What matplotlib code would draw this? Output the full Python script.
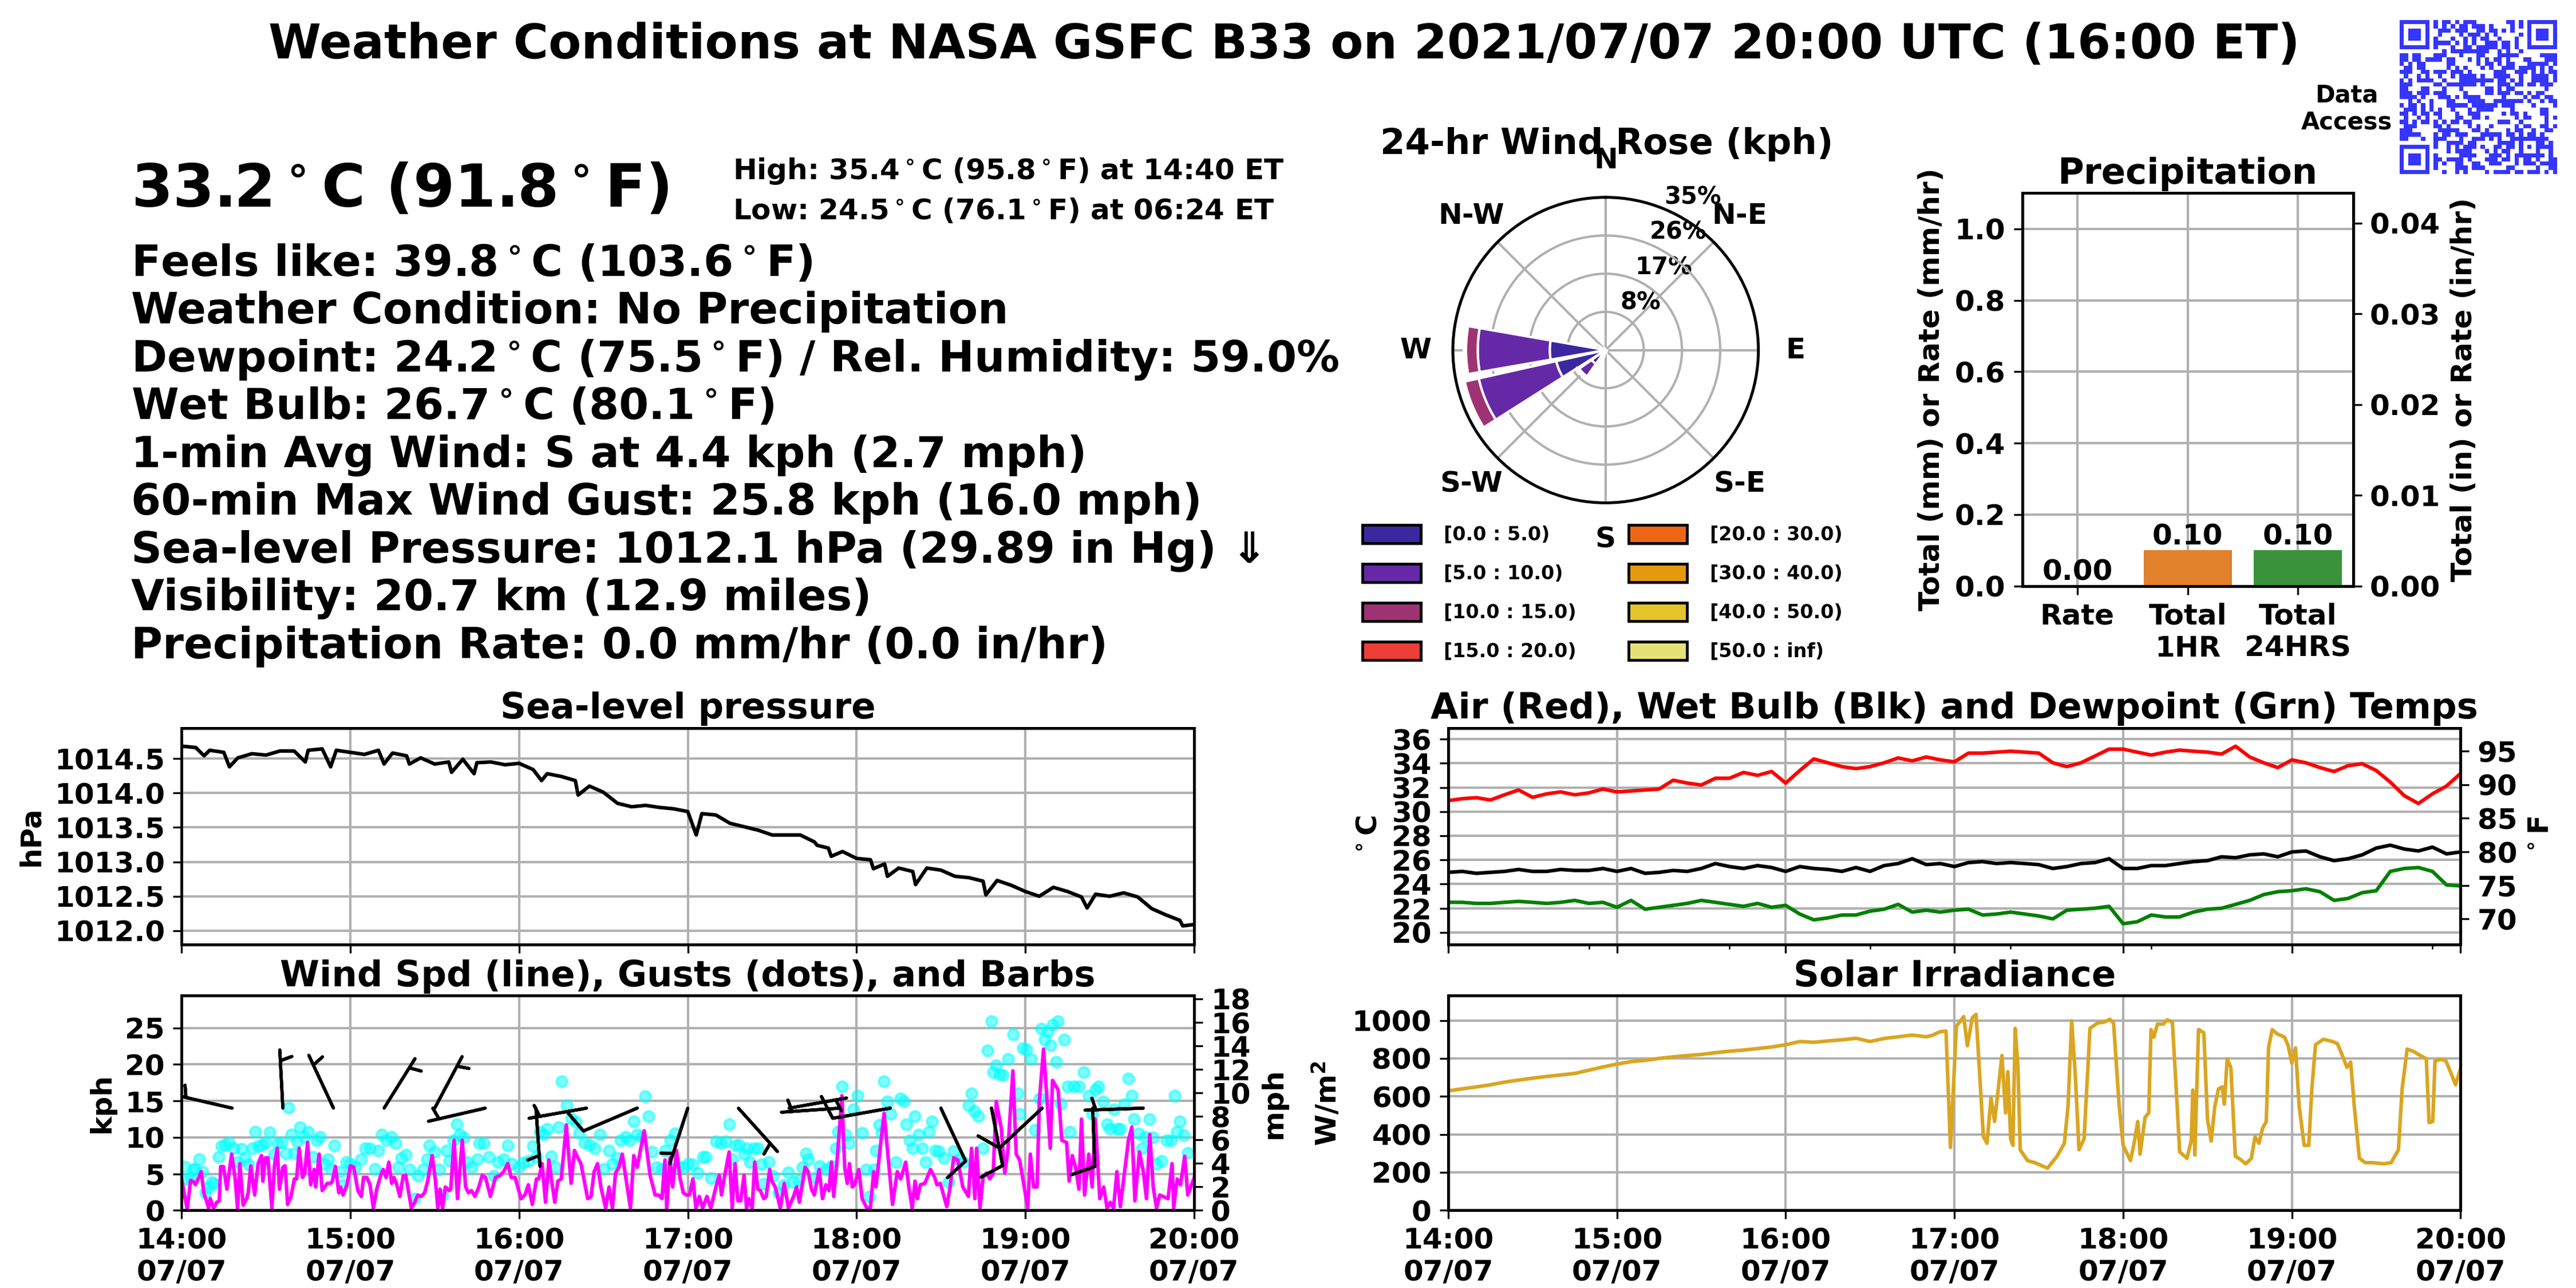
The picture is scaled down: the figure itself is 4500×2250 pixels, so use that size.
import numpy as np
import matplotlib
matplotlib.use('Agg')
import matplotlib.pyplot as plt
import matplotlib.dates as mdates
from matplotlib.patches import Patch
from matplotlib.colors import ListedColormap
from datetime import datetime, timedelta
import hashlib

plt.rcParams['font.family'] = ['DejaVu Sans']
plt.rcParams['font.weight'] = 'bold'
plt.rcParams['axes.titleweight'] = 'bold'
plt.rcParams['axes.labelweight'] = 'bold'
plt.rcParams['axes.linewidth'] = 1.2

# ---------------- DATA ----------------
T0 = datetime(2021, 7, 7, 14, 0)

# 5-minute temperature series (deg C)
t5_min = list(range(0, 361, 5))
air_c = [30.91, 31.07, 31.15, 30.96, 31.39, 31.79, 31.18, 31.47, 31.63, 31.39, 31.55, 31.87, 31.63,
         31.71, 31.79, 31.87, 32.60, 32.36, 32.20, 32.76, 32.76, 33.24, 33.00, 33.32, 32.36, 33.40,
         34.36, 34.04, 33.72, 33.56, 33.72, 34.04, 34.44, 34.20, 34.52, 34.28, 34.12, 34.84, 34.84,
         34.92, 35.00, 34.92, 34.84, 34.04, 33.72, 34.04, 34.60, 35.17, 35.17, 34.92, 34.68, 34.92,
         35.09, 35.00, 34.92, 34.76, 35.41, 34.52, 34.04, 33.64, 34.28, 34.04, 33.64, 33.32, 33.80,
         33.96, 33.40, 32.44, 31.31, 30.67, 31.47, 32.12, 33.16]
wetbulb_c = [24.97, 25.05, 24.89, 24.97, 25.05, 25.21, 25.05, 25.05, 25.21, 25.13, 25.13, 25.29, 25.05,
             25.29, 24.89, 24.97, 25.13, 25.05, 25.29, 25.70, 25.45, 25.29, 25.53, 25.37, 25.05, 25.45,
             25.29, 25.21, 25.05, 25.37, 25.05, 25.53, 25.70, 26.10, 25.61, 25.70, 25.45, 25.78, 25.86,
             25.70, 25.78, 25.70, 25.61, 25.29, 25.45, 25.70, 25.78, 26.10, 25.29, 25.29, 25.53, 25.53,
             25.70, 25.86, 25.94, 26.26, 26.18, 26.42, 26.50, 26.26, 26.66, 26.74, 26.26, 25.94, 26.10,
             26.42, 26.98, 27.22, 26.90, 26.74, 27.06, 26.50, 26.66]
dewpt_c = [22.49, 22.49, 22.40, 22.40, 22.49, 22.57, 22.49, 22.40, 22.49, 22.65, 22.40, 22.49, 22.08,
           22.65, 21.92, 22.08, 22.24, 22.40, 22.65, 22.49, 22.32, 22.16, 22.40, 22.08, 22.24, 21.52,
           21.04, 21.20, 21.44, 21.44, 21.76, 21.92, 22.32, 21.68, 21.84, 21.68, 21.84, 21.92, 21.44,
           21.52, 21.68, 21.52, 21.36, 21.12, 21.84, 21.92, 22.00, 22.16, 20.72, 20.88, 21.44, 21.28,
           21.28, 21.68, 21.92, 22.00, 22.32, 22.65, 23.13, 23.37, 23.45, 23.61, 23.37, 22.65, 22.81,
           23.29, 23.45, 25.05, 25.29, 25.37, 25.05, 23.93, 23.85]

# sea-level pressure (hPa): 5-minute readings plus short dips
p_min = list(range(0, 361, 5))
p_hpa = [1014.68, 1014.66, 1014.62, 1014.59, 1014.51, 1014.57, 1014.55, 1014.61, 1014.61, 1014.62,
         1014.64, 1014.62, 1014.59, 1014.56, 1014.62, 1014.58, 1014.54, 1014.51, 1014.42, 1014.45,
         1014.49, 1014.44, 1014.45, 1014.41, 1014.43, 1014.34, 1014.28, 1014.24, 1014.18, 1014.10,
         1014.01, 1013.85, 1013.80, 1013.82, 1013.79, 1013.77, 1013.73, 1013.70, 1013.68, 1013.56,
         1013.51, 1013.46, 1013.39, 1013.39, 1013.39, 1013.29, 1013.20, 1013.15, 1013.05, 1013.03,
         1012.97, 1012.91, 1012.86, 1012.91, 1012.88, 1012.79, 1012.77, 1012.72, 1012.73, 1012.66,
         1012.57, 1012.50, 1012.63, 1012.57, 1012.49, 1012.53, 1012.50, 1012.55, 1012.49, 1012.32,
         1012.23, 1012.15, 1012.09]
pdip_min = [8, 17, 44, 53, 72, 81, 96, 104, 128, 141, 183, 226, 231, 246, 251, 261, 286, 322, 356]
pdip_hpa = [1014.54, 1014.38, 1014.45, 1014.38, 1014.42, 1014.42, 1014.30, 1014.28, 1014.18, 1013.97,
            1013.39, 1013.24, 1013.08, 1012.90, 1012.79, 1012.67, 1012.52, 1012.33, 1012.07]

# solar irradiance (W/m2)
sol_min = [0, 5, 10, 15, 20, 25, 30, 35, 40, 45, 50, 55, 60, 65, 70, 75, 80, 85, 90, 95, 100, 105, 110,
           115, 120, 125, 130, 135, 140, 145, 150, 155, 160, 165, 170, 172, 175, 177,
           178.6, 180.7, 183.3, 184.6, 186.4, 187.7, 190.3, 191.6, 193.0, 194.3, 196.9, 198.2, 199.0,
           200.0, 200.8, 201.6, 202.6, 203.4, 206.0, 208.6, 213.1, 216.5, 219.1, 220.4, 221.7, 223.0,
           224.3, 226.1, 228.2, 230.8, 233.4, 235.3, 236.6, 238.6, 240.0, 242.6, 243.9, 245.2, 246.0,
           247.8, 249.1, 249.9, 250.9, 252.2, 254.3, 255.6, 257.5, 258.8, 260.1, 262.7, 264.2, 264.8,
           265.5, 266.8, 268.7, 270.0, 271.3, 272.6, 273.9, 275.2, 276.0, 277.0, 278.3, 279.9, 281.7,
           283.6, 285.6, 286.9, 288.3, 289.6, 290.9, 291.7, 293.0, 294.8, 297.4, 298.7, 300.0, 301.3,
           302.6, 304.4, 306.0, 307.1, 308.4, 311.2, 314.4, 316.2, 317.5, 319.6, 320.9, 322.2, 324.0,
           326.1, 328.7, 332.7, 335.3, 337.9, 339.2, 341.0, 343.1, 345.7, 347.8, 348.8, 350.1, 350.9,
           353.0, 354.8, 356.7, 358.2, 360.0]
sol_wm2 = [629, 640, 650, 661, 675, 686, 696, 705, 713, 721, 738, 755, 770, 783, 790, 800, 808, 815, 821,
           830, 838, 844, 852, 860, 872, 889, 885, 892, 898, 906, 889, 905, 914, 923, 914, 921, 941, 944,
           331, 969, 1020, 867, 1015, 1032, 388, 353, 593, 468, 815, 513, 730,
           376, 342, 958, 753, 319, 262, 251, 222, 285, 353, 547, 998, 707,
           319, 376, 958, 986, 992, 1006, 986, 547, 342, 262, 353, 468, 296,
           490, 513, 952, 912, 981, 981, 1003, 992, 661, 308, 274, 365, 633,
           291, 952, 935, 479, 365, 547, 639, 650, 559, 798, 753, 285, 268,
           245, 274, 388, 353, 433, 468, 855, 952, 929, 912, 867, 775, 855,
           547, 342, 342, 639, 872, 901, 889, 878, 832, 753, 781, 547, 274,
           251, 251, 245, 251, 319, 639, 849, 838, 815, 798, 462, 468, 787,
           796, 787, 718, 661, 747]

# 1-min average wind speed (kph)
spd_min = [0, 2, 3.2, 4.3, 4.9, 5.9, 7, 7.9, 9, 9.6, 10.2, 11.4, 12.5, 13.4, 13.9, 14.9, 16.1, 16.6, 17.8,
           19, 19.9, 20.7, 21.9, 23.1, 23.7, 24.6, 26, 27.2, 28.4, 28.9, 29.8, 30.7, 32.1, 33, 34, 34.8,
           36, 36.8, 37.7, 38.9, 40.1, 40.9, 41.8, 43, 43.8, 44.8, 45.9, 47.1, 47.7, 48.9, 50, 51.8, 53,
           53.6, 54.7, 55.9, 56.5, 57.4, 58.8, 60, 61.2, 62.7, 63.9, 64.7, 65.9, 67, 68.2, 69.4, 70.8,
           71.7, 72.7, 73.7, 74.7, 75.5, 76.4, 77.6, 78.8, 79.7, 81.7, 82.9, 84, 85.2, 86.4, 87.5, 89.1,
           90.2, 91.1, 91.9, 92.8, 93.8, 95.2, 95.7, 96.9, 98.1, 99.8, 101, 102, 103.1, 104.3, 105.7,
           106.9, 108.1, 109.8, 111.6, 113.3, 114.5, 116, 117.2, 118.6, 120.7, 122.1, 123.3, 124.7,
           126.2, 127, 128.2, 129.4, 130.6, 131.5, 132.7, 133.8, 135, 136.8, 138.5, 139.7, 140.9, 142,
           144.4, 145.6, 146.7, 147.9, 149.1, 150.8, 152, 153.2, 154.3, 155.5, 156.7, 159.6, 160.8, 162,
           164.5, 166.6, 168.4, 169.6, 170.8, 171.9, 172.5, 173.7, 174.6, 176, 177.2, 178.4, 179.5,
           180.6, 181.8, 182.9, 184.1, 185.3, 186.8, 188.2, 190, 191.2, 192, 192.9, 194.7, 195.8, 196.8,
           197.8, 198.8, 200, 200.9, 201.7, 202.9, 203.8, 204.9, 205.8, 207, 207.9, 209.1, 209.9, 211.1,
           212.9, 214.3, 215.8, 217.6, 218.7, 219.7, 221.7, 222.8, 224, 225, 226.7, 227.9, 229.1, 230.2,
           231.1, 231.9, 233.1, 234.8, 235.8, 236.7, 237.5, 238.5, 239.3, 240.8, 242, 243.7, 244.9,
           246.1, 246.9, 249.8, 252.8, 254.5, 255.7, 257.5, 258.6, 259.8, 260.8, 261.6, 262.7, 264.3,
           266.3, 267.8, 268.6, 269.8, 272.1, 273.3, 274.5, 276, 277.8, 279.8, 280.9, 282.1, 282.7,
           283.9, 285, 286.2, 287.4, 288.6, 289.7, 291.5, 292.7, 293.8, 295.6, 296.8, 298, 300.9, 301.8,
           303, 304.2, 305, 306.5, 307.7, 308.9, 309.7, 311.7, 313, 314.7, 315.6, 316.7, 317.9, 319.1,
           320, 321.1, 322.6, 323.8, 324.9, 326.5, 327.9, 329.1, 330.2, 331.4, 332.6, 333.8, 336.7,
           337.9, 339, 340.6, 342, 343.1, 344.3, 345.5, 346.7, 347.8, 349, 350.8, 352.2, 352.8, 354,
           355.2, 356.7, 357.8, 360]
spd_kph = [4.3, 0.1, 4.1, 3.9, 3.5, 4.3, 5.3, 2.4, 1.1, 0.3, 1.6, 0.3, 1.1, 1.3, 6.0, 6.0, 2.9, 4.3, 7.7,
           4.5, 0.3, 6.4, 0.7, 1.6, 2.4, 6.1, 2.1, 6.4, 7.5, 4.0, 7.2, 7.2, 0.3, 6.1, 8.5, 2.9,
           5.9, 6.1, 0.8, 1.9, 4.3, 4.3, 8.5, 4.5, 5.1, 9.3, 3.5, 5.6, 3.2, 7.7, 2.7, 3.7, 3.7,
           4.0, 6.0, 2.4, 3.2, 2.1, 3.5, 6.1, 5.9, 2.7, 1.9, 4.5, 4.5, 3.5, 0.3, 2.9, 4.8,
           5.6, 4.5, 6.6, 3.7, 4.5, 3.7, 1.9, 4.7, 4.8, 0.3, 1.1, 2.1, 1.9, 2.4, 4.0, 7.5,
           4.3, 0.3, 2.9, 0.3, 3.2, 2.7, 2.9, 9.6, 1.6, 9.6, 3.2, 2.4, 2.7, 1.9, 3.2,
           4.8, 4.5, 1.9, 4.5, 4.8, 5.3, 6.4, 4.5, 4.5, 1.6, 2.1, 3.5, 0.8,
           4.3, 4.3, 6.4, 1.1, 6.9, 4.3, 1.1, 4.0, 4.3, 11.7, 3.7, 8.2, 7.2, 6.4,
           1.6, 1.9, 5.3, 6.4, 3.2, 0.3, 3.2, 0.3, 5.1, 5.9, 7.7, 0.3, 7.5, 5.9,
           10.9, 4.8, 2.1, 2.1, 1.6, 6.9, 0.1, 7.2, 3.2, 8.2, 4.5, 2.4, 2.1,
           2.1, 4.3, 0.3, 1.9, 0.3, 1.9, 0.3, 3.2, 4.8, 2.1, 4.3, 8.0, 0.3, 6.4,
           1.3, 1.3, 4.8, 0.3, 1.6, 0.3, 6.6, 2.9, 2.7, 1.6, 1.9, 5.6, 4.0, 3.2,
           0.3, 3.7, 0.3, 1.9, 3.2, 1.1, 5.9, 5.3, 2.9, 2.1, 5.6, 1.6, 3.5, 2.7,
           6.6, 1.9, 6.9, 15.7, 5.9, 3.7, 6.4, 3.2, 3.5, 5.6, 1.6, 0.3, 0.3,
           5.3, 3.2, 13.3, 0.8, 5.3, 4.3, 6.6, 3.2, 0.3, 4.0, 1.6, 3.5, 3.7,
           5.6, 4.5, 3.5, 3.7, 0.5, 3.2, 7.2, 6.9, 3.2, 1.9, 8.5, 1.6, 8.5,
           0.3, 4.5, 5.1, 4.3, 5.1, 14.9, 11.2, 5.1, 8.0, 19.1, 7.7, 6.9, 0.3, 7.7,
           3.2, 3.2, 14.9, 22.1, 15.4, 8.5, 17.8, 16.5, 9.6, 9.3, 4.0, 7.5, 5.9, 2.9,
           12.5, 2.1, 7.7, 3.2, 12.5, 1.6, 3.2, 0.3, 1.1, 0.3, 5.3, 0.5, 9.6,
           11.4, 1.3, 8.0, 5.3, 1.6, 10.4, 3.2, 0.3, 2.1, 1.9, 1.6, 6.4, 0.3, 4.3,
           3.5, 7.4, 2.1, 4.4]

# wind gusts (kph)
gust_min = [1.2, 2.0, 3.2, 4.3, 4.7, 6.3, 7.5, 8.4, 9.6, 10.8, 11.4, 13.1, 14.1, 15.5, 16.9, 18.4, 19.9,
            21.3, 22.5, 23.7, 25.1, 26.3, 27.2, 28.6, 29.8, 31.2, 33.0, 34.2, 35.6, 37.1, 38.1, 39.1,
            40.1, 41.0, 42.1, 43.6, 45.0, 46.5, 48.0, 49.2, 50.6, 52.0, 53.0, 54.4, 56.3, 57.4, 58.6,
            60.0, 61.8, 63.8, 65.3, 67.0, 68.8, 70.0, 71.1, 72.9, 74.7, 76.1, 77.0, 78.2, 79.7, 81.1,
            82.9, 84.0, 85.8, 87.2, 88.1, 89.9, 91.6, 92.8, 94.2, 95.2, 96.6, 97.9, 98.9, 100.4, 101.6,
            103.1, 105.1, 105.9, 107.5, 109.2, 111.0, 112.5, 114.5, 116.0, 117.4, 119.8, 121.5, 123.3,
            125.0, 126.2, 127.4, 128.9, 130.1, 131.5, 132.9, 134.1, 135.2, 137.0, 138.5, 140.3, 141.4,
            143.2, 145.0, 147.0, 148.8, 150.2, 152.0, 153.2, 154.9, 156.1, 157.9, 159.4, 160.8, 162.0,
            163.7, 164.9, 166.1, 167.2, 169.0, 170.7, 171.9, 173.7, 175.4, 176.6, 178.4,
            180.0, 181.8, 183.5, 185.3, 186.5, 188.2, 190.0, 191.7, 193.5, 194.7, 195.8, 197.0, 198.2,
            200.0, 201.1, 202.1, 203.5, 204.9, 206.1, 207.0, 208.8, 210.3, 212.3, 214.0, 215.8, 217.6,
            219.3, 220.8, 222.0, 222.8, 225.2, 226.9, 229.1, 231.1, 232.6, 233.4, 234.9, 236.1, 237.3,
            238.9, 240.4, 242.0, 243.4, 244.6, 246.3, 246.9, 248.1, 249.0, 249.8, 251.0, 252.2, 253.9,
            255.7, 256.9, 257.7, 258.9, 259.8, 260.8, 262.2, 263.3, 264.5, 265.7, 266.9, 268.0, 269.2,
            271.0, 272.7, 274.5, 276.2, 278.0, 279.8, 280.9, 281.9, 283.3, 285.0, 286.6, 288.0, 288.6,
            289.7, 290.9, 292.1, 293.8, 295.8, 297.4, 298.0, 299.1, 300.5, 302.1, 303.5, 305.0, 305.8,
            307.0, 307.9, 308.9, 309.7, 310.9, 311.7, 312.6, 313.8, 315.0, 315.9, 317.3, 319.1, 320.8,
            322.6, 323.8, 325.0, 326.1, 327.7, 329.1, 330.2, 331.6, 332.8, 333.8, 335.2, 336.7, 337.9,
            338.7, 340.3, 341.5, 342.6, 344.1, 345.3, 346.7, 348.4, 350.2, 351.9, 353.1, 353.9, 354.9,
            356.3, 357.8]
gust_kph = [6.0, 4.3, 4.5, 5.6, 5.7, 7.0, 5.3, 2.4, 3.2, 3.9, 3.6, 7.3, 8.8, 9.0, 9.3, 8.5, 6.6,
            8.4, 7.2, 6.3, 8.5, 10.8, 8.8, 9.0, 9.3, 10.7, 7.7, 9.2, 9.3, 7.8, 14.1, 10.4,
            7.8, 9.4, 11.4, 10.1, 10.8, 7.3, 9.6, 10.1, 6.4, 7.0, 5.7, 8.9, 5.3, 3.5, 6.6,
            6.4, 5.9, 7.0, 8.5, 8.5, 5.7, 8.2, 10.4, 9.6, 10.1, 9.2, 5.9, 7.2, 7.6, 5.6,
            1.6, 4.7, 5.6, 7.0, 8.9, 8.0, 5.6, 2.1, 8.2, 6.8, 9.6, 11.8, 10.4, 10.0, 6.6,
            5.9, 7.0, 9.2, 9.2, 7.3, 4.7, 6.6, 7.0, 8.9, 6.4, 5.9, 6.5, 6.8,
            8.8, 7.3, 10.8, 10.4, 11.2, 7.4, 5.9, 11.4, 17.7, 14.4, 12.6, 12.1, 10.6,
            9.3, 9.0, 8.5, 10.4, 5.7, 8.2, 6.4, 7.2, 9.6, 10.1, 9.6, 12.2, 10.4,
            10.1, 15.6, 12.9, 8.0, 5.9, 5.7, 8.2, 9.6, 10.5, 6.0, 5.9,
            6.4, 6.3, 5.1, 7.3, 7.3, 4.4, 9.4, 9.2, 9.4, 11.8, 7.0, 8.9, 9.0,
            7.7, 8.5, 6.6, 8.5, 8.5, 6.3, 3.6, 6.6, 4.7, 2.4, 3.5, 5.2, 3.9,
            4.1, 5.9, 7.8, 7.0, 4.5, 6.1, 5.6, 6.1, 8.5, 10.8, 17.0, 10.4, 9.2,
            13.8, 15.7, 10.6, 5.6, 1.9, 5.6, 8.2, 11.7, 10.6, 17.7, 14.9, 13.2, 6.6,
            15.3, 14.9, 11.8, 9.6, 8.5, 12.9, 10.4, 8.5, 6.6, 10.8, 12.2, 8.2, 8.1,
            7.2, 3.9, 8.1, 6.9, 6.6, 14.4, 16.0, 13.6, 12.9, 8.5, 21.9, 25.9, 18.9,
            19.9, 18.6, 18.5, 20.7, 24.1, 16.0, 13.2, 22.2, 22.1, 20.7, 11.0, 15.3, 24.9,
            23.4, 24.5, 22.6, 25.4, 20.3, 25.9, 14.6, 23.4, 17.0, 10.8, 17.0, 17.0, 18.9,
            15.7, 13.2, 16.6, 17.0, 14.9, 11.8, 11.2, 13.8, 11.2, 11.2, 14.5, 18.1, 15.7,
            12.5, 10.5, 8.5, 10.1, 12.5, 10.0, 6.4, 6.8, 9.6, 9.6, 15.7, 10.8, 12.2,
            10.3, 7.9]

# wind barbs: time (min), direction wind blows from (deg), speed (kph)
barb_min = [18, 36, 54, 72, 90, 108, 126, 144, 162, 180, 198, 216, 234, 252, 270, 288, 306, 324, 342]
barb_dir = [283, 357, 335, 32, 28, 257, 176, 260, 247, 198, 138, 80, 266, 260, 155, 169, 227, 178, 268]
barb_kph = [6, 6, 6, 6, 6, 6, 6, 6, 11, 6, 6, 6, 6, 11, 11, 11, 11, 11, 6]
barb_level = 14.0

# wind rose (percent of time), 16 sectors starting at N going clockwise
rose_dirs = ['N', 'NNE', 'NE', 'ENE', 'E', 'ESE', 'SE', 'SSE', 'S', 'SSW', 'SW', 'WSW', 'W', 'WNW', 'NW', 'NNW']
rose_bins = ['[0.0 : 5.0)', '[5.0 : 10.0)', '[10.0 : 15.0)', '[15.0 : 20.0)',
             '[20.0 : 30.0)', '[30.0 : 40.0)', '[40.0 : 50.0)', '[50.0 : inf)']
rose_b0 = [0, 0, 0, 0, 0, 0.2, 0, 0.3, 0.4, 0.9, 3.9, 11.6, 12.8, 1.5, 0.3, 0]
rose_b1 = [0, 0, 0, 0, 0, 0.1, 0, 0.1, 0.2, 0.5, 3.5, 18.2, 16.5, 0.8, 0.2, 0]
rose_b2 = [0, 0, 0, 0, 0, 0, 0, 0, 0, 0.1, 0.5, 3.3, 2.7, 0.1, 0, 0]
rose_b3 = [0, 0, 0, 0, 0, 0, 0, 0, 0, 0, 0, 0.3, 0.4, 0, 0, 0]
rose_b4 = [0] * 16
rose_b5 = [0] * 16
rose_b6 = [0] * 16
rose_b7 = [0] * 16
rose_colors = ['#3b28a0', '#6529a8', '#9e3373', '#ee3e38', '#ee6614', '#e4980d', '#e4c42a', '#e5e177']
rose_rings = [8.75, 17.5, 26.25, 35.0]
rose_ring_labels = ['8%', '17%', '26%', '35%']

# precipitation
precip_cats = ['Rate', 'Total\n1HR', 'Total\n24HRS']
precip_mm = [0.00, 0.10, 0.10]
precip_colors = ['#3274a1', '#e1812c', '#3a923a']

title_txt = 'Weather Conditions at NASA GSFC B33 on 2021/07/07 20:00 UTC (16:00 ET)'
big_txt = '33.2$^\\circ$C (91.8$^\\circ$F)'
high_txt = 'High: 35.4$^\\circ$C (95.8$^\\circ$F) at 14:40 ET'
low_txt = 'Low: 24.5$^\\circ$C (76.1$^\\circ$F) at 06:24 ET'
info_lines = ['Feels like: 39.8$^\\circ$C (103.6$^\\circ$F)',
              'Weather Condition: No Precipitation',
              'Dewpoint: 24.2$^\\circ$C (75.5$^\\circ$F) / Rel. Humidity: 59.0%',
              'Wet Bulb: 26.7$^\\circ$C (80.1$^\\circ$F)',
              '1-min Avg Wind: S at 4.4 kph (2.7 mph)',
              '60-min Max Wind Gust: 25.8 kph (16.0 mph)',
              'Sea-level Pressure: 1012.1 hPa (29.89 in Hg) \u21d3',
              'Visibility: 20.7 km (12.9 miles)',
              'Precipitation Rate: 0.0 mm/hr (0.0 in/hr)']


def tt(mins):
    return mdates.date2num([T0 + timedelta(minutes=float(m)) for m in mins])


XMIN, XMAX = tt([0, 360])
GRID = dict(color='#b0b0b0', lw=1.0)
TICK_FS = 12


def time_axis(ax, labels=True):
    ax.set_xlim(XMIN, XMAX)
    ax.xaxis.set_major_locator(mdates.HourLocator())
    ax.xaxis.set_major_formatter(mdates.DateFormatter('%H:%M\n%m/%d'))
    if not labels:
        ax.tick_params(axis='x', labelbottom=False)
    ax.grid(True, **GRID)
    ax.tick_params(labelsize=TICK_FS)


fig = plt.figure(figsize=(15, 7.5), dpi=300)

# ---------------- TEXT BLOCK ----------------
fig.text(0.4985, 0.965, title_txt, ha='center', va='center', fontsize=20)
fig.text(0.051, 0.852, big_txt, ha='left', va='center', fontsize=25)
fig.text(0.2845, 0.867, high_txt, ha='left', va='center', fontsize=12)
fig.text(0.2845, 0.836, low_txt, ha='left', va='center', fontsize=12)
for i, line in enumerate(info_lines):
    fig.text(0.051, 0.795 - i * 0.0371, line, ha='left', va='center', fontsize=18)

# ---------------- WIND ROSE ----------------
axr = fig.add_axes([0.5640, 0.6096, 0.1186, 0.2372], projection='polar')
axr.set_theta_zero_location('N')
axr.set_theta_direction(-1)
theta = np.deg2rad(np.arange(16) * 22.5)
width = np.deg2rad(22.5 * 0.88)
bottom = np.zeros(16)
rose_all = [rose_b0, rose_b1, rose_b2, rose_b3, rose_b4, rose_b5, rose_b6, rose_b7]
for vals, col in zip(rose_all, rose_colors):
    vals = np.array(vals, dtype=float)
    axr.bar(theta, vals, width=width, bottom=bottom, color=col, edgecolor='white', lw=1.0, zorder=3)
    bottom = bottom + vals
axr.set_ylim(0, 35)
axr.set_rgrids(rose_rings, labels=rose_ring_labels, angle=22.5, fontsize=10, fontweight='bold')
axr.set_thetagrids(np.arange(0, 360, 45), labels=['N', 'N-E', 'E', 'S-E', 'S', 'S-W', 'W', 'N-W'],
                   fontsize=12, fontweight='bold')
axr.tick_params(axis='x', pad=5)
axr.grid(True, color='#b0b0b0', lw=1.0)
axr.spines['polar'].set_linewidth(1.2)
fig.text(0.6237, 0.888, '24-hr Wind Rose (kph)', ha='center', va='center', fontsize=15)
handles = [Patch(facecolor=c, edgecolor='black', lw=1.2) for c in rose_colors]
fig.legend(handles, rose_bins, ncol=2, loc='upper left', bbox_to_anchor=(0.5289, 0.5925),
           frameon=False, fontsize=8, handlelength=3.06, handleheight=1.1, handletextpad=1.2,
           columnspacing=2.75, labelspacing=1.01, borderpad=0, borderaxespad=0)

# ---------------- PRECIPITATION ----------------
axpr = fig.add_axes([0.785, 0.545, 0.1285, 0.305])
xcat = np.arange(len(precip_cats))
axpr.bar(xcat, precip_mm, width=0.8, color=precip_colors, zorder=2)
for xi, v in zip(xcat, precip_mm):
    axpr.text(xi, v, '%.2f' % v, ha='center', va='bottom', fontsize=12)
axpr.set_xticks(xcat)
axpr.set_xticklabels(precip_cats)
axpr.set_xlim(-0.5, 2.5)
axpr.set_ylim(0, 1.1)
axpr.set_yticks([0.0, 0.2, 0.4, 0.6, 0.8, 1.0])
axpr.grid(True, **GRID)
axpr.set_axisbelow(True)
axpr.tick_params(labelsize=TICK_FS)
axpr.set_ylabel('Total (mm) or Rate (mm/hr)', fontsize=12)
axpr.set_title('Precipitation', fontsize=15, pad=4)
axpr2 = axpr.twinx()
axpr2.set_ylim(0, 1.1 / 25.4)
axpr2.set_yticks([0.0, 0.01, 0.02, 0.03, 0.04])
axpr2.set_yticklabels(['0.00', '0.01', '0.02', '0.03', '0.04'])
axpr2.tick_params(labelsize=TICK_FS)
axpr2.set_ylabel('Total (in) or Rate (in/hr)', fontsize=12)

# QR-like data access block (decorative)
n = 37
digest = b''
seed = b'NASA GSFC B33 weather data access'
while len(digest) * 8 < n * n:
    seed = hashlib.sha256(seed).digest()
    digest += seed
bits = np.unpackbits(np.frombuffer(digest, dtype=np.uint8))[:n * n].reshape(n, n).astype(float)


def finder(m, r, c, s=7):
    m[r:r + s, c:c + s] = 1
    m[r + 1:r + s - 1, c + 1:c + s - 1] = 0
    m[r + 2:r + s - 2, c + 2:c + s - 2] = 1


for (r, c) in [(0, 0), (0, n - 7), (n - 7, 0)]:
    bits[max(r - 1, 0):r + 8, max(c - 1, 0):c + 8] = 0
    finder(bits, r, c)
finder(bits, n - 9, n - 9, 5)
axq = fig.add_axes([0.9315, 0.865, 0.0611, 0.1195])
axq.imshow(bits, cmap=ListedColormap(['white', '#3535ff']), interpolation='nearest', aspect='auto')
axq.axis('off')
fig.text(0.911, 0.926, 'Data', ha='center', va='center', fontsize=10)
fig.text(0.911, 0.905, 'Access', ha='center', va='center', fontsize=10)

# ---------------- PRESSURE ----------------
axp = fig.add_axes([0.0705, 0.2667, 0.393, 0.1679])
pm = np.array(p_min + pdip_min, dtype=float)
pv = np.array(p_hpa + pdip_hpa)
order_p = np.argsort(pm)
axp.plot(tt(pm[order_p]), pv[order_p], color='black', lw=1.5)
time_axis(axp, labels=False)
axp.set_ylim(1011.8, 1014.94)
axp.set_yticks([1012.0, 1012.5, 1013.0, 1013.5, 1014.0, 1014.5])
axp.set_ylabel('hPa', fontsize=12)
axp.set_title('Sea-level pressure', fontsize=15, pad=4)

# ---------------- WIND ----------------
axw = fig.add_axes([0.0705, 0.0603, 0.393, 0.1666])
axw.plot(tt(gust_min), gust_kph, 'o', color='cyan', alpha=0.5, ms=4.5, zorder=2)
axw.plot(tt(spd_min), spd_kph, color='magenta', lw=1.5, zorder=3)
bd = np.deg2rad(barb_dir)
bu = -np.array(barb_kph) * np.sin(bd)
bv = -np.array(barb_kph) * np.cos(bd)
axw.barbs(tt(barb_min), [barb_level] * len(barb_min), bu, bv, length=7, lw=1.3, color='black', zorder=4)
time_axis(axw)
axw.set_ylim(0, 29.4)
axw.set_yticks([0, 5, 10, 15, 20, 25])
axw.set_ylabel('kph', fontsize=12)
axw.set_title('Wind Spd (line), Gusts (dots), and Barbs', fontsize=15, pad=4)
axw2 = axw.twinx()
axw2.set_ylim(0, 29.4 / 1.609344)
axw2.set_yticks(list(range(0, 19, 2)))
axw2.tick_params(labelsize=TICK_FS)
axw2.set_ylabel('mph', fontsize=12)

# ---------------- TEMPERATURES ----------------
axt = fig.add_axes([0.5622, 0.2667, 0.393, 0.1679])
t5 = tt(t5_min)
axt.plot(t5, air_c, color='red', lw=1.5)
axt.plot(t5, wetbulb_c, color='black', lw=1.5)
axt.plot(t5, dewpt_c, color='green', lw=1.5)
time_axis(axt, labels=False)
axt.set_xticks(tt([50, 100, 150, 200, 250, 300, 350]), minor=True)
axt.tick_params(axis='x', which='minor', length=2)
axt.set_ylim(19.0, 36.9)
axt.set_yticks(list(range(20, 37, 2)))
axt.set_ylabel('$^\\circ$C', fontsize=12)
axt.set_title('Air (Red), Wet Bulb (Blk) and Dewpoint (Grn) Temps', fontsize=15, pad=4)
axt2 = axt.twinx()
axt2.set_ylim(19.0 * 1.8 + 32, 36.9 * 1.8 + 32)
axt2.set_yticks([70, 75, 80, 85, 90, 95])
axt2.tick_params(labelsize=TICK_FS)
axt2.set_ylabel('$^\\circ$F', fontsize=12)

# ---------------- SOLAR ----------------
axs = fig.add_axes([0.5622, 0.0603, 0.393, 0.1666])
axs.plot(tt(sol_min), sol_wm2, color='goldenrod', lw=1.5)
time_axis(axs)
axs.set_ylim(0, 1130)
axs.set_yticks([0, 200, 400, 600, 800, 1000])
axs.set_ylabel('W/m$^2$', fontsize=12)
axs.set_title('Solar Irradiance', fontsize=15, pad=4)

fig.savefig('out.png', dpi=300)
